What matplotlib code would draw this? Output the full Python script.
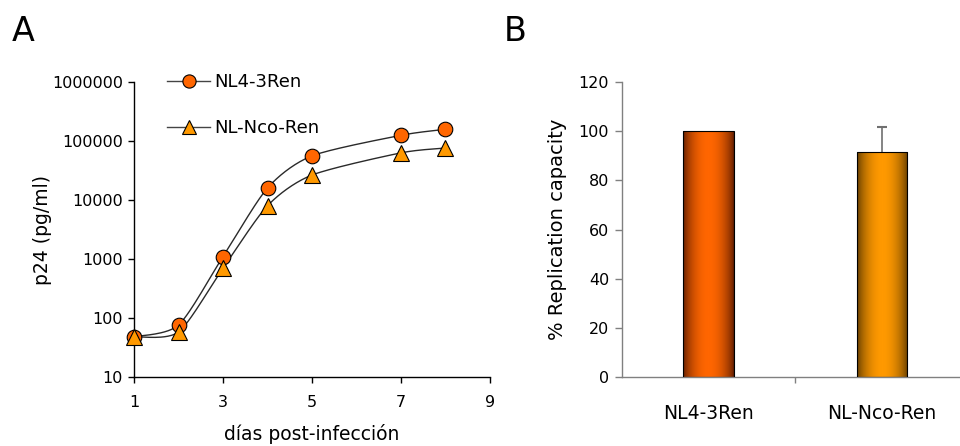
#!/usr/bin/env python

import numpy as np
import matplotlib
matplotlib.use('Agg')
from matplotlib import pyplot as plt
from matplotlib.colors import LinearSegmentedColormap

# panel A: p24 over time
days = [1, 2, 3, 4, 5, 7, 8]
nl43 = [48, 76, 1100, 16000, 56000, 125000, 158000]
nlnco = [48, 58, 700, 8000, 26500, 63000, 76000]
series_names = ['NL4-3Ren', 'NL-Nco-Ren']

# panel B: replication capacity
strains = ['NL4-3Ren', 'NL-Nco-Ren']
capacity = [100, 91.5]
capacity_err = [0, 10.2]

plt.rcParams['font.family'] = ['DejaVu Sans']


def Smooth(x, y, n=30, k=8.0):
    # catmull-rom style smoothing (like spreadsheet "smoothed line"), done in log space
    x = np.asarray(x, float)
    ly = np.log10(np.asarray(y, float))
    px = np.concatenate([[x[0]], x, [x[-1]]])
    py = np.concatenate([[ly[0]], ly, [ly[-1]]])
    xs, ys = [], []
    for i in range(1, len(px) - 2):
        p0, p1, p2, p3 = [np.array([px[j], py[j]]) for j in (i - 1, i, i + 1, i + 2)]
        c1 = p1 + (p2 - p0) / k
        c2 = p2 - (p3 - p1) / k
        t = np.linspace(0, 1, n)[:, None]
        pts = (1 - t) ** 3 * p1 + 3 * (1 - t) ** 2 * t * c1 + 3 * (1 - t) * t ** 2 * c2 + t ** 3 * p2
        xs.append(pts[:, 0])
        ys.append(pts[:, 1])
    return np.concatenate(xs), 10 ** np.concatenate(ys)


fig = plt.figure(figsize=(9.6, 4.46), dpi=100)

# ---------------- panel A
axa = fig.add_axes([0.1396, 0.1547, 0.3708, 0.6614])
styles = [('o', '#ff6600', nl43), ('^', '#ff9900', nlnco)]
for (mk, col, vals), name in zip(styles, series_names):
    sx, sy = Smooth(days, vals)
    axa.plot(sx, sy, color='#2a2a2a', lw=1.0, zorder=2)
    axa.plot(days, vals, ls='none', marker=mk, ms=10.5 if mk == 'o' else 11,
             mfc=col, mec='black', mew=0.8, zorder=3, clip_on=False)
    axa.plot([], [], color='#444444', lw=1.0, marker=mk, ms=9.5, mfc=col,
             mec='black', mew=0.8, label=name)
axa.set_yscale('log')
axa.set_ylim(10, 1e6)
axa.set_xlim(1, 9)
axa.set_xticks([1, 3, 5, 7, 9])
axa.set_yticks([10, 100, 1000, 10000, 100000, 1000000])
axa.set_yticklabels(['10', '100', '1000', '10000', '100000', '1000000'])
axa.minorticks_off()
for s in ['top', 'right']:
    axa.spines[s].set_visible(False)
axa.spines['left'].set_linewidth(1.0)
axa.spines['bottom'].set_linewidth(1.0)
axa.tick_params(axis='y', length=4, width=1, labelsize=11.5, pad=4)
axa.tick_params(axis='x', length=4, width=1, labelsize=11.5, pad=9)
axa.set_ylabel('p24 (pg/ml)', fontsize=13.5, va='center', ha='center')
axa.yaxis.set_label_coords(-0.258, 0.5)
axa.set_xlabel('días post-infección', fontsize=13.5, labelpad=10)
axa.legend(loc='upper left', bbox_to_anchor=(0.067, 1.06), frameon=False,
           fontsize=13, handlelength=2.4, handletextpad=0.25, labelspacing=1.55,
           borderpad=0)
fig.text(0.012, 0.93, 'A', fontsize=24, va='center')

# ---------------- panel B
axb = fig.add_axes([0.6476, 0.1547, 0.3618, 0.6614])
xpos = np.arange(len(strains))
bars = axb.bar(xpos, capacity, width=0.29, color='none', edgecolor='black',
               lw=0.8, zorder=3)
eb = axb.errorbar(xpos[1:], capacity[1:], yerr=[[0], capacity_err[1:]], fmt='none',
                  ecolor='#707070', elinewidth=1.2, capsize=3.6, capthick=1.5, zorder=2)
eb[1][0].set_visible(False)  # only the upper cap

grad = np.sin(np.linspace(0, np.pi, 100)) ** 0.7
for b, (dark, bright) in zip(bars, [('#5e1c00', '#ff6600'), ('#5e3a00', '#ff9900')]):
    cmap = LinearSegmentedColormap.from_list('g', [dark, bright])
    x0, w, h = b.get_x(), b.get_width(), b.get_height()
    im = axb.imshow(grad[None, :], cmap=cmap, aspect='auto',
                    extent=[x0, x0 + w, 0, h], zorder=2.5, vmin=0, vmax=1)
    im.set_clip_path(b)

axb.set_xlim(-0.5, 1.5)
axb.set_ylim(0, 120)
axb.set_yticks(range(0, 121, 20))
axb.set_xticks([0.5], minor=False)
axb.set_xticklabels([''])
for i, s in enumerate(strains):
    axb.text(xpos[i], -15, s, ha='center', va='center', fontsize=13.5,
             transform=axb.transData, clip_on=False)
for s in ['top', 'right']:
    axb.spines[s].set_visible(False)
for s in ['left', 'bottom']:
    axb.spines[s].set_color('#808080')
    axb.spines[s].set_linewidth(1.0)
axb.tick_params(axis='y', length=5, width=1, color='#808080', labelsize=11.5, pad=4)
axb.tick_params(axis='x', length=4, width=1, color='#808080')
axb.set_ylabel('% Replication capacity', fontsize=14, va='center', ha='center')
axb.yaxis.set_label_coords(-0.186, 0.5)
fig.text(0.525, 0.93, 'B', fontsize=24, va='center')

plt.savefig('out.png', dpi=100)
